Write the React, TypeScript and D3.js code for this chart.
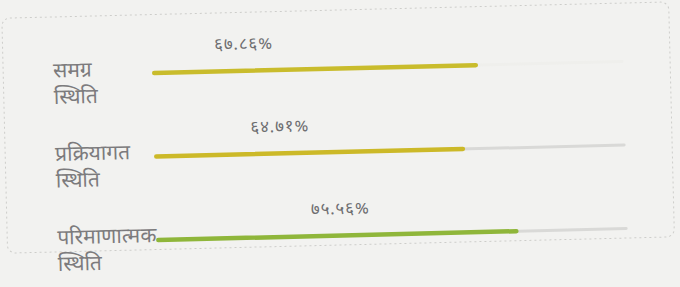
import React from "react";
import * as d3 from "d3";

// progress rows (Nepali)
const labelsLine1 = ["समग्र", "प्रक्रियागत", "परिमाणात्मक"];
const labelsLine2 = ["स्थिति", "स्थिति", "स्थिति"];
const values = [67.86, 64.71, 75.56];
const valueTexts = ["६७.८६%", "६४.७१%", "७५.५६%"];
const barColors = ["#c9bc2c", "#ccb928", "#8fb63a"];
const trackColors = ["#efefec", "#d9d9d7", "#d9d9d7"];

const width = 680;
const height = 287;
const font = "'Noto Sans Devanagari', 'Noto Sans', Lato, sans-serif";

const App = () => {
  const x = d3.scaleLinear().domain([0, 100]).range([156, 630]);
  // bar centre lines
  const y = d3.scalePoint<number>().domain([0, 1, 2]).range([68.5, 235.5]);
  // where the % label sits along the filled part
  const labelPos = [0.28, 0.405, 0.51];

  return (
    <svg
      width={width}
      height={height}
      style={{ position: "fixed", left: 0, top: 0, background: "#f2f2f0" }}
    >
      {/* the photo is slightly rotated */}
      <g transform="rotate(-1.4, 340, 143)">
        <rect
          x={5}
          y={10}
          width={667}
          height={235}
          rx={8}
          fill="none"
          stroke="#cdcdca"
          strokeDasharray="2,3"
        />
        {values.map((v, i) => {
          const barY = y(i) as number;
          return (
            <g key={i}>
              <line
                x1={x(0)}
                x2={x(100) - 6}
                y1={barY}
                y2={barY}
                stroke={trackColors[i]}
                strokeWidth={3}
                strokeLinecap="round"
              />
              <line
                x1={x(0)}
                x2={x(v)}
                y1={barY}
                y2={barY}
                stroke={barColors[i]}
                strokeWidth={4.5}
                strokeLinecap="round"
              />
              <text
                x={x(0) + (x(v) - x(0)) * labelPos[i]}
                y={barY - 21.5}
                textAnchor="middle"
                fontFamily={font}
                fontSize={17}
                letterSpacing={0.8}
                fill="#6e6e70"
              >
                {valueTexts[i]}
              </text>
              <text x={55} y={barY + 2} fontFamily={font} fontSize={21} fill="#7c7b7d">
                {labelsLine1[i]}
              </text>
              <text x={55} y={barY + 28.5} fontFamily={font} fontSize={21} fill="#7c7b7d">
                {labelsLine2[i]}
              </text>
            </g>
          );
        })}
      </g>
    </svg>
  );
};

export default App;
